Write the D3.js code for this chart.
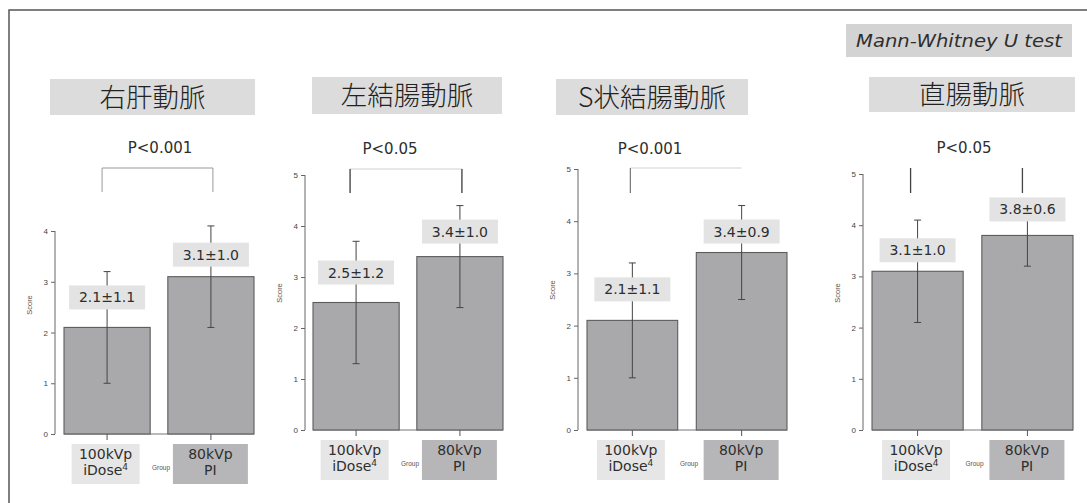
<!DOCTYPE html>
<html>
<head>
<meta charset="utf-8">
<script src="https://cdn.jsdelivr.net/npm/d3@7"></script>
<style>
  html, body { margin: 0; padding: 0; background: #fff; }
  svg { display: block; }
</style>
</head>
<body>
<svg id="chart" width="1087" height="503"></svg>
<script>
// Image-quality scores per artery, 100kVp iDose4 vs 80kVp PI (mean ± SD)
const titles = ["右肝動脈", "左結腸動脈", "S状結腸動脈", "直腸動脈"];
const pLabels = ["P<0.001", "P<0.05", "P<0.001", "P<0.05"];
const groups = ["100kVp iDose4", "80kVp PI"];
const meanIDose = [2.1, 2.5, 2.1, 3.1];
const sdIDose = [1.1, 1.2, 1.1, 1.0];
const meanPI = [3.1, 3.4, 3.4, 3.8];
const sdPI = [1.0, 1.0, 0.9, 0.6];
const yMaxes = [4, 5, 5, 5];
const testName = "Mann-Whitney U test";
const axisTitle = "Score";
const groupAxisTitle = "Group";

// Panel geometry
const layout = [
  { axisX: 55,  x0: 64,  x1: 254,  yBase: 434, yTop: 231, title: [50, 255, 79, 115],  pX: 160, pY: 153, scoreY: 305,
    gap: [18, 10], br: { y: 168, y2: 192, dx: [-5, 2], h: "#999", v: ["#999", "#999"], vw: 1 } },
  { axisX: 305, x0: 313, x1: 503,  yBase: 430, yTop: 175, title: [312, 502, 77, 114], pX: 390, pY: 154, scoreY: 293,
    gap: [18, 13], br: { y: 169, y2: 193, dx: [-6, 2], h: "#cfcfcf", v: ["#555", "#555"], vw: 1.5 } },
  { axisX: 578, x0: 587, x1: 787,  yBase: 430, yTop: 169, title: [556, 748, 79, 115], pX: 650, pY: 154, scoreY: 290,
    gap: [19, 9], br: { y: 168, y2: 193, dx: [-2, 0], h: "#d4d4d4", v: ["#777", null], vw: 1.2 } },
  { axisX: 863, x0: 872, x1: 1073, yBase: 430, yTop: 174, title: [869, 1075, 77, 112], pX: 964, pY: 153, scoreY: 293,
    gap: [9, 14], br: { y: 168, y2: 193, dx: [-7, -5], h: null, v: ["#444", "#444"], vw: 1.3 } }
];

const svg = d3.select("#chart");
const ink = "#2e2e2e";
const bodyFont = "'DejaVu Sans', Verdana, sans-serif";
const narrowFont = "'Liberation Sans Narrow', 'Liberation Sans', Arial, sans-serif";

// Frame (top and left edges)
svg.append("path")
  .attr("d", "M9,503 V10 H1087")
  .attr("fill", "none").attr("stroke", "#555").attr("stroke-width", 1.5);

// Test name badge
svg.append("rect").attr("x", 846).attr("y", 24).attr("width", 226).attr("height", 33).attr("fill", "#d3d3d3");
svg.append("text")
  .attr("x", 959).attr("y", 47).attr("text-anchor", "middle")
  .attr("font-family", bodyFont).attr("font-style", "italic").attr("font-size", 18)
  .attr("textLength", 206).attr("lengthAdjust", "spacingAndGlyphs")
  .attr("fill", ink).text(testName);

titles.forEach((title, i) => {
  const L = layout[i];
  const g = svg.append("g");
  const means = [meanIDose[i], meanPI[i]];
  const sds = [sdIDose[i], sdPI[i]];

  const x = d3.scaleBand().domain(groups).range([L.x0, L.x1]).paddingInner(0.17).paddingOuter(0);
  const y = d3.scaleLinear().domain([0, yMaxes[i]]).range([L.yBase, L.yTop]);
  const cx = k => x(groups[k]) + x.bandwidth() / 2;

  // Title
  const [tx0, tx1, ty0, ty1] = L.title;
  g.append("rect").attr("x", tx0).attr("y", ty0).attr("width", tx1 - tx0).attr("height", ty1 - ty0).attr("fill", "#dcdcdc");
  g.append("text")
    .attr("x", (tx0 + tx1) / 2).attr("y", (ty0 + ty1) / 2 + 9.5)
    .attr("text-anchor", "middle")
    .attr("font-family", "'Noto Sans CJK JP', sans-serif").attr("font-size", 26.5).attr("font-weight", 300)
    .attr("fill", "#222").text(title);

  // P value
  g.append("text")
    .attr("x", L.pX).attr("y", L.pY).attr("text-anchor", "middle")
    .attr("font-family", bodyFont).attr("font-size", 15).attr("fill", ink)
    .text(pLabels[i]);

  // Significance bracket
  const bx = [cx(0) + L.br.dx[0], cx(1) + L.br.dx[1]];
  if (L.br.h) {
    g.append("line").attr("x1", bx[0]).attr("x2", bx[1]).attr("y1", L.br.y).attr("y2", L.br.y)
      .attr("stroke", L.br.h).attr("stroke-width", 1.2);
  }
  L.br.v.forEach((col, k) => {
    if (!col) return;
    g.append("line").attr("x1", bx[k]).attr("x2", bx[k]).attr("y1", L.br.y).attr("y2", L.br.y2)
      .attr("stroke", col).attr("stroke-width", L.br.vw);
  });

  // Y axis
  const yAxis = d3.axisLeft(y).tickValues(d3.range(0, yMaxes[i] + 1)).tickSize(4).tickPadding(3).tickFormat(d3.format("d"));
  const ag = g.append("g").attr("transform", `translate(${L.axisX},0)`).call(yAxis);
  ag.select(".domain").attr("stroke", "#666").attr("d", `M0,${y(yMaxes[i])}V${y(0)}`);
  ag.selectAll(".tick line").attr("stroke", "#666");
  ag.selectAll(".tick text").attr("font-family", narrowFont).attr("font-size", 8).attr("fill", "#444");

  g.append("text")
    .attr("transform", `translate(${L.axisX - 23},${L.scoreY}) rotate(-90)`)
    .attr("text-anchor", "middle").attr("font-family", narrowFont).attr("font-size", 7.5).attr("fill", "#555")
    .text(axisTitle);

  // Baseline under the bars
  g.append("line").attr("x1", L.x0).attr("x2", L.x1).attr("y1", y(0)).attr("y2", y(0))
    .attr("stroke", "#777").attr("stroke-width", 1.2);

  // Bars
  g.selectAll("rect.bar").data(means).join("rect")
    .attr("class", "bar")
    .attr("x", (d, k) => x(groups[k]))
    .attr("y", d => y(d))
    .attr("width", x.bandwidth())
    .attr("height", d => y(0) - y(d))
    .attr("fill", "#a9a9ac").attr("stroke", "#5c5c5c").attr("stroke-width", 1.1);

  // Error bars (mean ± SD)
  means.forEach((m, k) => {
    const c = cx(k);
    const hi = y(m + sds[k]), lo = y(m - sds[k]);
    g.append("line").attr("x1", c).attr("x2", c).attr("y1", hi).attr("y2", lo).attr("stroke", "#444").attr("stroke-width", 1);
    [hi, lo].forEach(v => g.append("line").attr("x1", c - 3.5).attr("x2", c + 3.5).attr("y1", v).attr("y2", v)
      .attr("stroke", "#444").attr("stroke-width", 1));
  });

  // X ticks at bar centres
  [0, 1].forEach(k => g.append("line").attr("x1", cx(k)).attr("x2", cx(k)).attr("y1", y(0)).attr("y2", y(0) + 6)
    .attr("stroke", "#555").attr("stroke-width", 1));

  // Value labels
  means.forEach((m, k) => {
    const c = cx(k);
    const bottom = y(m) - L.gap[k];
    g.append("rect").attr("x", c - 38).attr("y", bottom - 24).attr("width", 76).attr("height", 24).attr("fill", "#e3e3e3");
    g.append("text").attr("x", c).attr("y", bottom - 7).attr("text-anchor", "middle")
      .attr("font-family", bodyFont).attr("font-size", 14).attr("fill", ink)
      .text(`${m.toFixed(1)}±${sds[k].toFixed(1)}`);
  });

  // Group label boxes
  const boxTop = y(0) + 10;
  const boxW = [68, 75];
  const boxFill = ["#e6e6e6", "#b6b6b9"];
  [0, 1].forEach(k => {
    const c = cx(k) - (k === 0 ? 1.5 : 0.5);
    g.append("rect").attr("x", c - boxW[k] / 2).attr("y", boxTop).attr("width", boxW[k]).attr("height", 40).attr("fill", boxFill[k]);
    const parts = groups[k].split(" ");
    g.append("text").attr("x", c).attr("y", boxTop + 15).attr("text-anchor", "middle")
      .attr("font-family", bodyFont).attr("font-size", 14).attr("fill", ink).text(parts[0]);
    const t2 = g.append("text").attr("x", c).attr("y", boxTop + 31).attr("text-anchor", "middle")
      .attr("font-family", bodyFont).attr("font-size", 14).attr("fill", ink);
    const m = parts[1].match(/^(\D+)(\d*)$/);
    t2.append("tspan").text(m[1]);
    if (m[2]) t2.append("tspan").attr("font-size", 9).attr("dy", -5).text(m[2]);
  });

  g.append("text")
    .attr("x", (cx(0) + cx(1)) / 2 + 2).attr("y", boxTop + 26).attr("text-anchor", "middle")
    .attr("font-family", narrowFont).attr("font-size", 6.5).attr("fill", "#555")
    .text(groupAxisTitle);
});
</script>
</body>
</html>
